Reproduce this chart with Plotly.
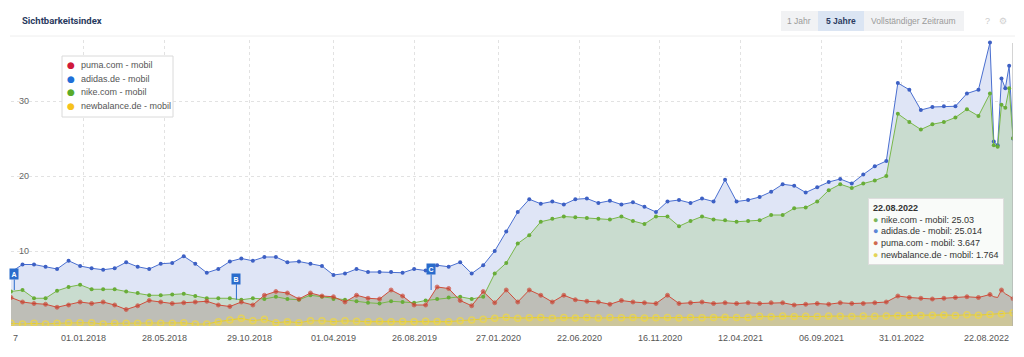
import pandas as pd
import plotly.graph_objects as go

# ---------------- data ----------------
grid_dates = pd.date_range("2017-08-21", periods=86, freq="21D")
tail_dates = pd.date_range("2022-07-18", "2022-08-22", freq="7D")
dates = grid_dates.append(tail_dates)

adidas = [7.2, 8.2, 8.2, 7.9, 7.6, 8.7, 8.0, 7.7, 7.5, 7.7,
          8.5, 7.9, 7.6, 8.3, 8.4, 9.3, 8.3, 7.1, 7.6, 8.6,
          9.0, 8.7, 9.2, 9.2, 8.5, 8.6, 8.3, 8.0, 6.8, 7.0,
          7.6, 7.2, 7.2, 7.2, 7.1, 7.6, 7.4, 8.1, 7.9, 8.5,
          7.0, 8.1, 10.0, 12.6, 15.2, 16.9, 16.3, 16.6, 16.2, 16.9,
          17.0, 16.4, 16.7, 16.2, 16.5, 15.9, 15.2, 16.6, 16.8, 16.4,
          17.0, 16.6, 19.5, 16.6, 16.8, 17.2, 17.9, 18.9, 18.7, 17.8,
          18.5, 19.2, 19.6, 19.0, 20.2, 21.3, 22.0, 32.4, 31.5, 28.8,
          29.2, 29.3, 29.3, 31.0, 31.5, 37.8,
          24.6, 24.1, 33.0, 31.7, 34.7, 25.014]

nike = [4.6, 4.8, 3.7, 3.7, 4.7, 5.2, 5.5, 4.9, 4.9, 4.9,
        4.6, 4.4, 4.1, 4.1, 4.2, 4.3, 4.0, 3.7, 3.7, 3.7,
        3.5, 3.7, 3.6, 3.9, 3.6, 3.5, 4.1, 3.9, 3.6, 3.5,
        3.3, 3.1, 3.0, 3.3, 3.2, 3.1, 3.4, 3.6, 3.8, 3.9,
        3.6, 3.9, 7.0, 8.4, 11.0, 12.1, 13.9, 14.3, 14.6, 14.5,
        14.4, 14.3, 14.2, 14.6, 14.0, 13.6, 14.6, 14.6, 13.3, 14.0,
        14.6, 14.2, 14.1, 13.9, 14.0, 14.1, 14.8, 14.8, 15.7, 15.8,
        16.6, 18.1, 18.9, 18.4, 19.0, 19.4, 20.0, 28.3, 27.2, 26.2,
        26.9, 27.2, 27.8, 28.9, 28.0, 31.0,
        24.1, 23.9, 29.5, 29.1, 31.7, 25.03]

puma = [3.8, 3.2, 3.0, 2.9, 2.5, 2.8, 3.2, 3.0, 3.2, 2.8,
        2.2, 2.7, 3.4, 3.2, 3.0, 3.1, 3.2, 3.3, 2.8, 2.6,
        3.2, 2.8, 4.1, 4.6, 4.4, 3.6, 4.4, 4.0, 3.9, 3.2,
        4.1, 3.7, 3.6, 4.8, 4.0, 2.8, 2.8, 5.2, 5.0, 3.4,
        2.7, 4.6, 3.1, 4.8, 3.2, 4.8, 4.1, 3.2, 4.1, 3.5,
        3.3, 3.2, 2.9, 3.4, 3.2, 3.1, 3.0, 4.1, 3.0, 3.1,
        3.2, 3.0, 3.1, 3.0, 3.1, 3.0, 3.1, 3.1, 2.8, 2.9,
        3.0, 2.9, 3.1, 3.0, 3.0, 3.1, 3.2, 4.0, 3.8, 3.7,
        3.6, 3.7, 3.8, 3.9, 3.8, 4.2,
        3.9, 3.8, 4.8, 4.3, 4.0, 3.647]

newbalance = [0.36, 0.27, 0.36, 0.27, 0.36, 0.44, 0.44, 0.44, 0.27, 0.36,
              0.36, 0.36, 0.44, 0.36, 0.36, 0.44, 0.27, 0.27, 0.58, 0.80,
              1.02, 0.71, 0.89, 0.44, 0.58, 0.44, 0.71, 0.71, 0.58, 0.71,
              0.62, 0.58, 0.62, 0.58, 0.60, 0.58, 0.62, 0.60, 0.58, 0.71,
              0.80, 0.89, 1.02, 1.16, 1.05, 1.10, 1.15, 1.05, 1.12, 1.08,
              1.14, 1.06, 1.12, 1.10, 1.15, 1.08, 1.10, 1.12, 1.08, 1.15,
              1.10, 1.13, 1.18, 1.12, 1.15, 1.30, 1.25, 1.32, 1.28, 1.30,
              1.26, 1.32, 1.30, 1.28, 1.33, 1.30, 1.35, 1.38, 1.45, 1.40,
              1.42, 1.48, 1.40, 1.50, 1.45, 1.55,
              1.52, 1.55, 1.60, 1.62, 1.68, 1.764]

tick_dates = ["2018-01-01", "2018-05-28", "2018-10-29", "2019-04-01", "2019-08-26",
              "2020-01-27", "2020-06-22", "2020-11-16", "2021-04-12", "2021-09-06",
              "2022-01-31"]
tick_labels = ["01.01.2018", "28.05.2018", "29.10.2018", "01.04.2019", "26.08.2019",
               "27.01.2020", "22.06.2020", "16.11.2020", "12.04.2021", "06.09.2021",
               "31.01.2022"]
first_label = "7"
last_label = "22.08.2022"
y_ticks = [10, 20, 30]

series_names = ["puma.com - mobil", "adidas.de - mobil", "nike.com - mobil", "newbalance.de - mobil"]
event_flags = [("A", "2017-08-27", 4.8, -16), ("B", "2018-10-06", 3.5, -21), ("C", "2019-09-26", 4.8, -21)]

# ---------------- geometry ----------------
W, H = 1024, 357
L, R, T, B = 11, 1013, 40, 326
YMAX = (B - T) / 7.5

def px(x):
    return (x - L) / (R - L)

def py(y):
    return (B - y) / (B - T)

FONT = "Liberation Sans, Arial, sans-serif"
n_grid = len(grid_dates)
n_tail = len(tail_dates)
# the slower series only show markers on their regular (3-weekly) points
sparse_sizes = lambda s: [s] * n_grid + [0, 0, s, 0, 0, s][:n_tail]

fig = go.Figure()

# fills (opaque, layered)
fills = [(adidas, "#dfe5f6"), (nike, "#c9dccf"), (puma, "#bebeb7"), (newbalance, "#cdc69a")]
for vals, col in fills:
    fig.add_trace(go.Scatter(x=dates, y=vals, mode="none", fill="tozeroy",
                             fillcolor=col, hoverinfo="skip"))

# lines + markers
fig.add_trace(go.Scatter(x=dates, y=adidas, mode="lines+markers",
                         line=dict(color="#4a6fd0", width=1),
                         marker=dict(size=4, color="#3d60c4")))
fig.add_trace(go.Scatter(x=dates, y=nike, mode="lines+markers",
                         line=dict(color="#79b84a", width=1),
                         marker=dict(size=4, color="#68ad38")))
fig.add_trace(go.Scatter(x=dates, y=puma, mode="lines+markers",
                         line=dict(color="#cf4e3c", width=1),
                         marker=dict(size=sparse_sizes(4), color="#c63c2c")))
fig.add_trace(go.Scatter(x=dates, y=newbalance, mode="lines+markers",
                         line=dict(color="#e2cc3c", width=1.1),
                         marker=dict(size=sparse_sizes(6), symbol="circle-open", color="#f2d83a",
                                     line=dict(width=1.5, color="#f2d83a"))))

shapes = []
annos = []

# hover crosshair
shapes.append(dict(type="line", xref="x", yref="paper", x0=dates[-1], x1=dates[-1],
                   y0=0, y1=py(43), line=dict(color="#a8a8a8", width=1)))

# header separator
shapes.append(dict(type="line", xref="paper", yref="paper", x0=px(10), x1=px(1015),
                   y0=py(36), y1=py(36), line=dict(color="#eeeeee", width=1)))

# title
annos.append(dict(xref="paper", yref="paper", x=px(20), y=py(21), xanchor="left", yanchor="middle",
                  text="<b>Sichtbarkeitsindex</b>", showarrow=False,
                  font=dict(family="Roboto, " + FONT, size=9.5, color="#2b3b60")))

# buttons
shapes.append(dict(type="rect", xref="paper", yref="paper", x0=px(781), x1=px(964),
                   y0=py(31), y1=py(11), fillcolor="#f1f2f4", line=dict(width=0), layer="below"))
shapes.append(dict(type="rect", xref="paper", yref="paper", x0=px(818), x1=px(864),
                   y0=py(31), y1=py(11), fillcolor="#dbe5f3", line=dict(width=0), layer="below"))
for txt, cx, col, bold in [("1 Jahr", 799, "#9a9a9a", False), ("5 Jahre", 841, "#2b3b60", True),
                           ("Vollständiger Zeitraum", 913, "#9a9a9a", False)]:
    annos.append(dict(xref="paper", yref="paper", x=px(cx), y=py(21), xanchor="center", yanchor="middle",
                      text=f"<b>{txt}</b>" if bold else txt, showarrow=False,
                      font=dict(family=FONT, size=8.5, color=col)))
annos.append(dict(xref="paper", yref="paper", x=px(987), y=py(21), xanchor="center", yanchor="middle",
                  text="?", showarrow=False, font=dict(family=FONT, size=9, color="#cccccc")))
annos.append(dict(xref="paper", yref="paper", x=px(1003), y=py(21), xanchor="center", yanchor="middle",
                  text="⚙", showarrow=False, font=dict(family="DejaVu Sans", size=9, color="#d0d0d0")))

# legend box
shapes.append(dict(type="rect", xref="paper", yref="paper", x0=px(62), x1=px(173),
                   y0=py(117), y1=py(56), fillcolor="white", line=dict(color="#dadada", width=1)))
legend_colors = ["#d0193a", "#1f6fd8", "#5aab2a", "#f6c21c"]
for k, (name, col) in enumerate(zip(series_names, legend_colors)):
    yy = 65 + k * 13.7
    annos.append(dict(xref="paper", yref="paper", x=px(71), y=py(yy), xanchor="center", yanchor="middle",
                      text="●", showarrow=False, font=dict(family="DejaVu Sans", size=9, color=col)))
    annos.append(dict(xref="paper", yref="paper", x=px(79), y=py(yy), xanchor="left", yanchor="middle",
                      text=name, showarrow=False, font=dict(family=FONT, size=9, color="#555555")))

# event flags
for letter, d, v, ay in event_flags:
    annos.append(dict(xref="x", yref="y", x=d, y=v, ax=0, ay=ay, text=f"<b>{letter}</b>",
                      showarrow=True, arrowhead=0, arrowwidth=1, arrowcolor="#2a6ccc",
                      bgcolor="#2a6ccc", borderpad=1.5, font=dict(family=FONT, size=7, color="white")))

# x tick labels
XL = 337.5
annos.append(dict(xref="paper", yref="paper", x=px(10.5), y=py(XL), xanchor="left", yanchor="middle",
                  text=first_label, showarrow=False, font=dict(family=FONT, size=9, color="#555555")))
for d, lab in zip(tick_dates, tick_labels):
    annos.append(dict(xref="x", yref="paper", x=d, y=py(XL), xanchor="center", yanchor="middle",
                      text=lab, showarrow=False, font=dict(family=FONT, size=9, color="#555555")))
annos.append(dict(xref="paper", yref="paper", x=px(1011), y=py(XL), xanchor="right", yanchor="middle",
                  text=last_label, showarrow=False, font=dict(family=FONT, size=9, color="#555555")))

# tooltip
tip_cols = ["#7db65a", "#5b86d6", "#cf6a4f", "#e3d456"]
tip_rows = [(series_names[2], nike[-1]), (series_names[1], adidas[-1]),
            (series_names[0], puma[-1]), (series_names[3], newbalance[-1])]
tip = "<b>" + dates[-1].strftime("%d.%m.%Y") + "</b>"
for (name, val), col in zip(tip_rows, tip_cols):
    tip += f"<br><span style='color:{col}'>●</span> {name}: {val}"
annos.append(dict(xref="paper", yref="paper", x=px(868), y=py(198), xanchor="left", yanchor="top",
                  align="left", text=tip, showarrow=False, bgcolor="rgba(255,255,255,0.88)",
                  bordercolor="#dddddd", borderwidth=1, borderpad=4,
                  font=dict(family=FONT, size=9, color="#333333")))

fig.update_layout(
    width=W, height=H,
    margin=dict(l=L, r=W - R, t=T, b=H - B),
    paper_bgcolor="white", plot_bgcolor="white",
    showlegend=False, hovermode=False,
    shapes=shapes, annotations=annos,
    xaxis=dict(type="date", range=[dates[0], dates[-1]], tickvals=tick_dates,
               showticklabels=False, ticks="", showgrid=True, gridcolor="#e2e2e2",
               griddash="dot", zeroline=False, showline=False),
    yaxis=dict(range=[0, YMAX], tickvals=y_ticks, ticklabelposition="inside",
               ticklabelstandoff=5, ticks="", showgrid=True, gridcolor="#e2e2e2",
               griddash="dot", zeroline=False, showline=False,
               tickfont=dict(family=FONT, size=9, color="#666666")),
)

fig.write_html("out.html", config={"displayModeBar": False},
               post_script="document.body.style.margin='0';document.body.style.padding='0';document.body.style.overflow='hidden';")
